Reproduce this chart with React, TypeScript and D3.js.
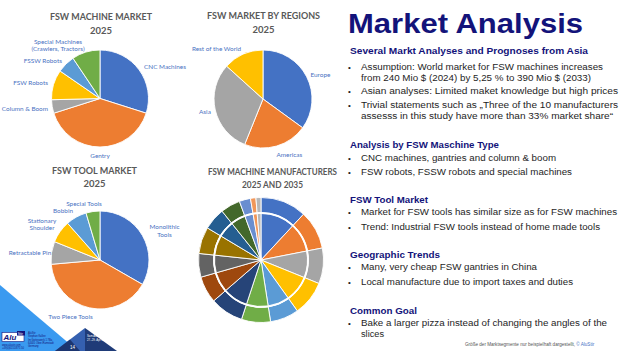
import React from "react";
import * as d3 from "d3";

// ---------- DATA ----------
const machineCategories = ["CNC Machines", "Gentry", "Column & Boom", "FSW Robots", "FSSW Robots", "Special Machines"];
const machineValues = [29.9, 40.2, 4.5, 10, 6, 9.4];

const regionCategories = ["Europe", "Americas", "Asia", "Rest of the World"];
const regionValues = [35, 21.1, 30.6, 13.3];

const toolCategories = ["Monolithic Tools", "Two Piece Tools", "Retractable Pin", "Stationary Shoulder", "Bobbin", "Special Tools"];
const toolValues = [33.3, 40.3, 7.5, 7.4, 6.9, 4.6];

const manufacturerIds = ["M1", "M2", "M3", "M4", "M5", "M6", "M7", "M8", "M9", "M10", "M11", "M12", "M13", "M14", "M15"];
const manufacturers2025 = [11.9, 10, 9.2, 9, 7.4, 7.5, 8.6, 6.9, 6.1, 6.9, 5.7, 5.1, 2.9, 1.4, 1.3];
const manufacturers2035 = [11.9, 10, 9.2, 9, 7.4, 7.5, 8.6, 6.9, 6.1, 6.9, 5.7, 5.1, 2.9, 1.4, 1.3];

const chartTitles = [
  ["FSW MACHINE MARKET", "2025"],
  ["FSW MARKET BY REGIONS", "2025"],
  ["FSW TOOL MARKET", "2025"],
  ["FSW MACHINE MANUFACTURERS", "2025 AND 2035"],
];

const slideTitle = "Market Analysis";
const textLines = [
  { kind: "h", text: "Several Markt Analyses and Prognoses from Asia" },
  { kind: "b", text: "Assumption: World market for FSW machines increases" },
  { kind: "c", text: "from 240 Mio $ (2024) by 5,25 % to 390 Mio $ (2033)" },
  { kind: "b", text: "Asian analyses: Limited maket knowledge but high prices" },
  { kind: "b", text: "Trivial statements such as \u201EThree of the 10 manufacturers" },
  { kind: "c", text: "assesss in this study have more than 33% market share\u201C" },
  { kind: "h", text: "Analysis by FSW Maschine Type" },
  { kind: "b", text: "CNC machines, gantries and column & boom" },
  { kind: "b", text: "FSW robots, FSSW robots and special machines" },
  { kind: "h", text: "FSW Tool Market" },
  { kind: "b", text: "Market for FSW tools has similar size as for FSW machines" },
  { kind: "b", text: "Trend: Industrial FSW tools instead of home made tools" },
  { kind: "h", text: "Geographic Trends" },
  { kind: "b", text: "Many, very cheap FSW gantries in China" },
  { kind: "b", text: "Local manufacture due to import taxes and duties" },
  { kind: "h", text: "Common Goal" },
  { kind: "b", text: "Bake a larger pizza instead of changing the angles of the" },
  { kind: "c", text: "slices" },
];
const footnote = "Gr\u00F6\u00DFe der Marktsegmente nur beispielhaft dargestellt, ";
const footnoteBrand = "\u00A9 AluStir";

// ---------- STYLE / LAYOUT ----------
const W = 624, H = 351;
const office = ["#4472C4", "#ED7D31", "#A5A5A5", "#FFC000", "#5B9BD5", "#70AD47"];
const manuColors = ["#4472C4", "#ED7D31", "#A5A5A5", "#FFC000", "#5B9BD5", "#70AD47", "#264478", "#9E480E", "#636363", "#997300", "#255E91", "#43682B", "#698ED0", "#F1975A", "#B7B7B7"];
const labelColor = "#4A72C2";
const navy = "#13137A";
const labelFont = "Lato, 'Noto Sans', sans-serif";
const arialFont = "'Liberation Sans', Arial, sans-serif";

// line baselines & widths for the right text block
const lineY = [53.5, 70, 81, 94, 108, 118.5, 147.5, 160.6, 174.8, 203, 215, 229.5, 257.5, 270, 285, 313.5, 326, 337];
const lineW = [238, 242, 230, 257, 257, 252, 149, 195, 211, 78, 256, 239, 90, 176, 212, 67, 246, 23];

// pie label placement (x, y baseline, anchor, lines)
type Lab = { x: number; y: number; a: "start" | "middle" | "end"; lines: string[] };
const machineLabels: Lab[] = [
  { x: 144, y: 69, a: "start", lines: [machineCategories[0]] },
  { x: 100, y: 157.5, a: "middle", lines: [machineCategories[1]] },
  { x: 48, y: 111, a: "end", lines: [machineCategories[2]] },
  { x: 48, y: 85, a: "end", lines: [machineCategories[3]] },
  { x: 62, y: 62.5, a: "end", lines: [machineCategories[4]] },
  { x: 58, y: 43.5, a: "middle", lines: [machineCategories[5], "(Crawlers, Tractors)"] },
];
const regionLabels: Lab[] = [
  { x: 310.5, y: 77, a: "start", lines: [regionCategories[0]] },
  { x: 276.5, y: 157, a: "start", lines: [regionCategories[1]] },
  { x: 199, y: 113.5, a: "start", lines: [regionCategories[2]] },
  { x: 216.5, y: 50.5, a: "middle", lines: [regionCategories[3]] },
];
const toolLabels: Lab[] = [
  { x: 164.5, y: 229, a: "middle", lines: ["Monolithic", "Tools"] },
  { x: 70.5, y: 318.5, a: "middle", lines: [toolCategories[1]] },
  { x: 30, y: 254.5, a: "middle", lines: [toolCategories[2]] },
  { x: 42, y: 222.5, a: "middle", lines: ["Stationary", "Shoulder"] },
  { x: 63, y: 212.5, a: "middle", lines: [toolCategories[4]] },
  { x: 84, y: 206, a: "middle", lines: [toolCategories[5]] },
];

function Pie({ cx, cy, r, r0 = 0, values, colors }: { cx: number; cy: number; r: number; r0?: number; values: number[]; colors: string[] }) {
  const arcs = d3.pie<number>().sort(null).value((d) => d)(values);
  const arc = d3.arc<d3.PieArcDatum<number>>().innerRadius(r0).outerRadius(r);
  return (
    <g transform={`translate(${cx},${cy})`}>
      {arcs.map((a, i) => (
        <path key={i} d={arc(a) || ""} fill={colors[i % colors.length]} stroke="#fff" strokeWidth={0.9} strokeLinejoin="round" />
      ))}
    </g>
  );
}

function Labels({ labels }: { labels: Lab[] }) {
  return (
    <g fontFamily={labelFont} fontSize={6.4} fill={labelColor}>
      {labels.map((l, i) =>
        l.lines.map((t, j) => (
          <text key={`${i}-${j}`} x={l.x} y={l.y + j * 7.8} textAnchor={l.a}>
            {t}
          </text>
        ))
      )}
    </g>
  );
}

function Title({ x, y, lines, w }: { x: number; y: number; lines: string[]; w: number[] }) {
  return (
    <g fontFamily={labelFont} fontWeight={700} fontSize={9} fill="#595959" textAnchor="middle">
      {lines.map((t, j) => (
        <text key={j} x={x} y={y + j * 13.5} textLength={w[j]} lengthAdjust="spacingAndGlyphs">
          {t}
        </text>
      ))}
    </g>
  );
}

export default function App() {
  return (
    <svg width={W} height={H} viewBox={`0 0 ${W} ${H}`} style={{ position: "fixed", left: 0, top: 0, background: "#fff" }}>
      <rect width={W} height={H} fill="#fff" />

      {/* decoration bottom-left */}
      <polygon points="0,285 78,351 0,351" fill="#3A9AF0" />
      <polygon points="55,351 85,328 85,351" fill="#3560B0" />
      <polygon points="85,328 117,351 85,351" fill="#1F3B78" />
      <polygon points="55,351 70,339.5 80,351" fill="#1C3570" />
      <text x={70} y={349} fontSize={4.5} fill="#fff" fontFamily={arialFont}>14</text>
      <g fontFamily={arialFont} fontSize={2.8} fill="#fff">
        <text x={87} y={337}>Sam Aluminium</text>
        <text x={87} y={341}>27.-29. Apr 2025</text>
      </g>
      <rect x={2} y={332.5} width={22} height={9} fill="#fff" stroke="#13137A" strokeWidth={0.6} />
      <text x={3.5} y={340.3} fontSize={8} fontWeight={700} fontStyle="italic" fill="#13137A" fontFamily={arialFont}>Alu</text>
      <rect x={17} y={331} width={8} height={4.5} fill="#13137A" />
      <text x={17.8} y={334.6} fontSize={3.3} fill="#fff" fontFamily={arialFont}>Stir</text>
      <g fontFamily={arialFont} fontSize={2.6} fill="#13137A">
        <text x={2} y={345.5}>www.alustir.com</text>
        <text x={2} y={349}>+49(0)6151/875 50</text>
        <text x={28} y={334}>AluStir</text>
        <text x={28} y={337.3}>Stephan Kallee</text>
        <text x={28} y={340.6}>Im Gotteswerk 1 7Ba</text>
        <text x={28} y={343.9}>64405 Ober-Ramstadt</text>
        <text x={28} y={347.2}>Germany</text>
      </g>

      {/* Chart titles */}
      <Title x={101} y={20} lines={chartTitles[0]} w={[102, 22]} />
      <Title x={263.5} y={19} lines={chartTitles[1]} w={[113, 22]} />
      <Title x={94.5} y={173.5} lines={chartTitles[2]} w={[85, 22]} />
      <Title x={272.5} y={174.5} lines={chartTitles[3]} w={[129, 61]} />

      {/* Pies */}
      <Pie cx={100} cy={98.5} r={48.5} values={machineValues} colors={office} />
      <Pie cx={263} cy={99} r={49} values={regionValues} colors={office} />
      <Pie cx={100} cy={260} r={49} values={toolValues} colors={office} />
      <Pie cx={261} cy={260} r={62.5} r0={47.5} values={manufacturers2035} colors={manuColors} />
      <Pie cx={261} cy={260} r={46.5} values={manufacturers2025} colors={manuColors} />
      <circle cx={261} cy={260} r={47} fill="none" stroke="#fff" strokeWidth={1.4} />

      <Labels labels={machineLabels} />
      <Labels labels={regionLabels} />
      <Labels labels={toolLabels} />

      {/* Right panel */}
      <text x={348} y={33.3} fontFamily={arialFont} fontWeight={700} fontSize={28.5} fill={navy} textLength={235} lengthAdjust="spacingAndGlyphs">
        {slideTitle}
      </text>
      <g fontFamily={arialFont}>
        {textLines.map((l, i) => {
          if (l.kind === "h") {
            return (
              <text key={i} x={350} y={lineY[i]} fontWeight={700} fontSize={9.6} fill={navy} textLength={lineW[i]} lengthAdjust="spacingAndGlyphs">
                {l.text}
              </text>
            );
          }
          return (
            <g key={i} fill="#1E1E1E" fontSize={9.7}>
              {l.kind === "b" && (
                <text x={348} y={lineY[i]} fontSize={8}>{"\u2022"}</text>
              )}
              <text x={361} y={lineY[i]} textLength={lineW[i]} lengthAdjust="spacingAndGlyphs">
                {l.text}
              </text>
            </g>
          );
        })}
      </g>
      <text x={465} y={345.5} fontFamily={arialFont} fontSize={4.6} fill="#555">
        {footnote}
        <tspan fill="#4472C4">{footnoteBrand}</tspan>
      </text>
    </svg>
  );
}
